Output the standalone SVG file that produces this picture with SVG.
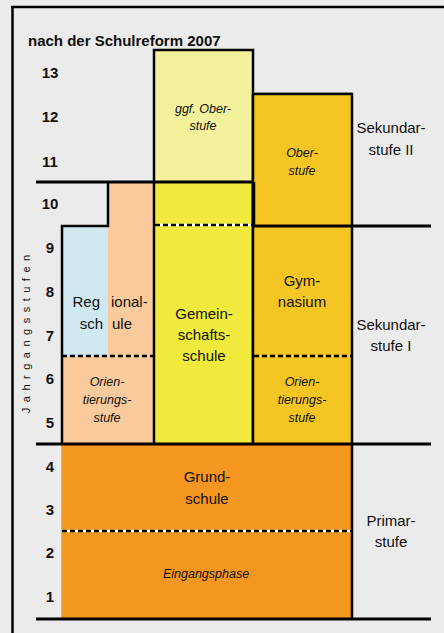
<svg xmlns="http://www.w3.org/2000/svg" width="444" height="633" viewBox="0 0 444 633">
<style>
.t{font-family:"Liberation Sans",Arial,sans-serif;fill:#111}
.num{font-size:15px;font-weight:bold;text-anchor:middle}
.lbl{font-size:15px;text-anchor:middle}
.it{font-size:12.5px;font-style:italic;text-anchor:middle}
.edge{fill:none;stroke:#000;stroke-width:2.5}
.bar{stroke:#000;stroke-width:3.2}
.dash{stroke:#000;stroke-width:2.5;stroke-dasharray:5 3}
.gap{stroke:#fff;stroke-width:2.5}
</style>
<rect width="444" height="633" fill="#ebebeb"/>
<g id="frame">
<line x1="12.5" y1="6" x2="12.5" y2="633" stroke="#000" stroke-width="2.5"/>
<line x1="11" y1="7" x2="444" y2="7" stroke="#000" stroke-width="2.5"/>
</g>
<g id="title"><text class="t" x="28" y="46" font-size="15" font-weight="bold">nach der Schulreform 2007</text></g>
<g id="axis">
<text class="t num" x="50" y="78">13</text>
<text class="t num" x="50" y="122">12</text>
<text class="t num" x="50" y="167">11</text>
<text class="t num" x="50" y="209">10</text>
<text class="t num" x="50" y="253">9</text>
<text class="t num" x="50" y="297">8</text>
<text class="t num" x="50" y="341">7</text>
<text class="t num" x="50" y="384">6</text>
<text class="t num" x="50" y="428">5</text>
<text class="t num" x="50" y="472">4</text>
<text class="t num" x="50" y="515">3</text>
<text class="t num" x="50" y="558">2</text>
<text class="t num" x="50" y="602">1</text>
<text class="t" transform="translate(30,334) rotate(-90)" x="2.75" y="0" font-size="11" letter-spacing="5.5" text-anchor="middle">Jahrgangsstufen</text>
</g>
<g id="grundschule">
<rect x="62" y="444" width="290" height="175" fill="#f4961f"/>
<line x1="61.5" y1="444" x2="61.5" y2="619" stroke="#b8b8b8" stroke-width="1"/>
<line x1="352" y1="444" x2="352" y2="619" class="edge"/>
<line x1="62" y1="531" x2="352" y2="531" class="gap"/>
<line x1="62" y1="531" x2="352" y2="531" class="dash"/>
<text class="t lbl" x="207" y="482">Grund-</text>
<text class="t lbl" x="207" y="504">schule</text>
<text class="t it" x="206" y="578">Eingangsphase</text>
</g>
<g id="regionalschule">
<rect x="62" y="226" width="46" height="130" fill="#d0e9f0"/>
<rect x="108" y="182" width="46" height="174" fill="#f9cb9c"/>
<rect x="62" y="356" width="92" height="88" fill="#f9cb9c"/>
<path d="M62,444 V226 H108 V182" class="edge"/>
<line x1="62" y1="356" x2="154" y2="356" class="dash"/>
<text class="t" font-size="15" y="307"><tspan x="100" text-anchor="end">Reg</tspan><tspan x="111">ional-</tspan></text>
<text class="t" font-size="15" y="329"><tspan x="103" text-anchor="end">sch</tspan><tspan x="112">ule</tspan></text>
<text class="t it" x="107" y="386">Orien-</text>
<text class="t it" x="107" y="404">tierungs-</text>
<text class="t it" x="107" y="422">stufe</text>
</g>
<g id="gemeinschaftsschule">
<rect x="154" y="50" width="99" height="132" fill="#f4f19c"/>
<rect x="154" y="182" width="99" height="262" fill="#efea3b"/>
<path d="M154,444 V50 H253 V444" class="edge"/>
<line x1="155" y1="225" x2="252" y2="225" class="gap"/>
<line x1="155" y1="225" x2="252" y2="225" class="dash"/>
<text class="t it" x="203" y="113">ggf. Ober-</text>
<text class="t it" x="203" y="130">stufe</text>
<text class="t lbl" x="204" y="319">Gemein-</text>
<text class="t lbl" x="204" y="340">schafts-</text>
<text class="t lbl" x="204" y="361">schule</text>
</g>
<g id="gymnasium">
<line x1="253" y1="93" x2="352" y2="93" stroke="#888" stroke-width="1"/>
<rect x="253" y="94" width="99" height="350" fill="#f5c623"/>
<path d="M253,94 H352 V444" class="edge"/>
<line x1="253" y1="94" x2="253" y2="444" class="edge"/>
<line x1="254" y1="356" x2="352" y2="356" class="dash"/>
<text class="t it" x="302" y="157">Ober-</text>
<text class="t it" x="302" y="175">stufe</text>
<text class="t lbl" x="302" y="286">Gym-</text>
<text class="t lbl" x="302" y="307">nasium</text>
<text class="t it" x="302" y="386">Orien-</text>
<text class="t it" x="302" y="404">tierungs-</text>
<text class="t it" x="302" y="422">stufe</text>
</g>
<g id="connectors">
<line x1="36" y1="182" x2="254" y2="182" class="bar"/>
<line x1="253.5" y1="182" x2="253.5" y2="226" stroke="#000" stroke-width="3.5"/>
<line x1="252" y1="226" x2="431" y2="226" class="bar"/>
<line x1="36" y1="444" x2="431" y2="444" class="bar"/>
<line x1="36" y1="619" x2="431" y2="619" class="bar"/>
</g>
<g id="stufen">
<text class="t lbl" x="391" y="133">Sekundar-</text>
<text class="t lbl" x="391" y="155">stufe II</text>
<text class="t lbl" x="391" y="330">Sekundar-</text>
<text class="t lbl" x="391" y="351">stufe I</text>
<text class="t lbl" x="391" y="526">Primar-</text>
<text class="t lbl" x="391" y="547">stufe</text>
</g>
</svg>
